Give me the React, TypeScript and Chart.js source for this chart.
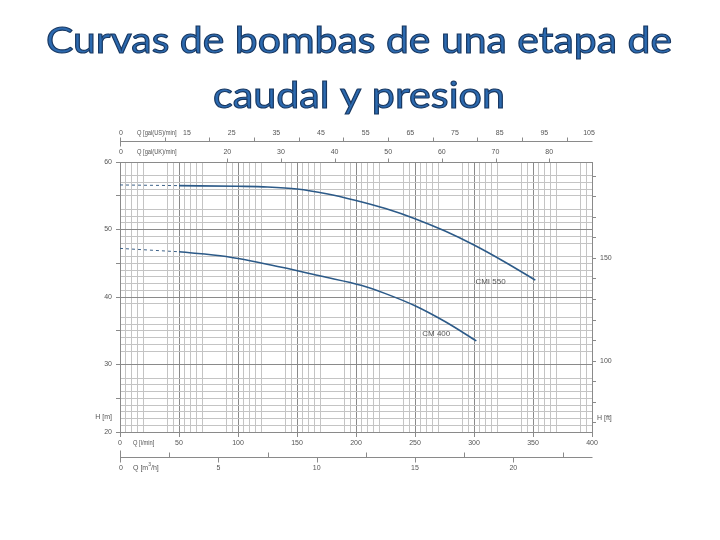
import React, { useEffect, useRef } from "react";
import { Chart, registerables } from "chart.js";

Chart.register(...registerables);

const titleLines = ["Curvas de bombas de una etapa de", "caudal y presion"];
const seriesNames = ["CMI 550", "CM 400"];

// CMI 550 curve (Q in l/min, H in m)
const cm550Q = [50, 100, 125, 150, 175, 200, 225, 250, 275, 300, 325, 352];
const cm550H = [56.5, 56.4, 56.3, 56.0, 55.3, 54.3, 53.1, 51.6, 49.8, 47.7, 45.3, 42.5];
const cm550DashQ = [0, 50];
const cm550DashH = [56.6, 56.5];

// CM 400 curve
const cm400Q = [50, 90, 137, 170, 205, 225, 250, 275, 302];
const cm400H = [46.7, 46.0, 44.4, 43.1, 41.7, 40.5, 38.7, 36.4, 33.5];
const cm400DashQ = [0, 50];
const cm400DashH = [47.2, 46.7];

// tick labels
const lpmLabels = [0, 50, 100, 150, 200, 250, 300, 350, 400];
const meterLabels = [20, 30, 40, 50, 60];
const feetLabels = [100, 150];
const feetTicks = [70, 80, 90, 100, 110, 120, 130, 140, 150, 160, 170, 180, 190];
const galUSLabels = [15, 25, 35, 45, 55, 65, 75, 85, 95, 105];
const galUSTicks = [10, 20, 30, 40, 50, 60, 70, 80, 90, 100];
const galUKLabels = [20, 30, 40, 50, 60, 70, 80];
const m3hLabels = [5, 10, 15, 20];
const m3hMinorTicks = [2.5, 7.5, 12.5, 17.5, 22.5];

const L_PER_GAL_US = 3.78541;
const L_PER_GAL_UK = 4.54609;
const LPM_PER_M3H = 1000 / 60;
const M_PER_FT = 0.3048;

const qOffsets = [0, 5, 10, 15, 20, 40, 45];
const hSkip = [59, 54, 47, 38, 31, 29];

const qGrid: number[] = [];
for (let m = 0; m <= 400; m += 50) {
  for (const o of qOffsets) {
    const v = m + o;
    if (v <= 400) qGrid.push(v);
  }
}
const hGrid: number[] = [];
for (let h = 20; h <= 60; h++) if (!hSkip.includes(h)) hGrid.push(h);

const pts = (xs: number[], ys: number[]) => xs.map((x, i) => ({ x, y: ys[i] }));

const LABEL_FONT = '7px "Liberation Sans", Arial, sans-serif';
const LABEL_COLOR = "#555";
const GRID_MINOR = "#c4c4c4";
const GRID_MAJOR = "#8a8a8a";
const AXIS_COLOR = "#8a8a8a";

const decorPlugin = {
  id: "decor",
  afterDraw(chart: any) {
    const ctx: CanvasRenderingContext2D = chart.ctx;
    const xs = chart.scales.x;
    const ys = chart.scales.y;
    const area = chart.chartArea;
    const px = (lpm: number) => xs.getPixelForValue(lpm);

    ctx.save();
    // Title
    const drawTitle = (text: string, cx: number, base: number, targetW: number) => {
      ctx.font = '37px Lato, "Open Sans", sans-serif';
      const w = ctx.measureText(text).width;
      ctx.save();
      ctx.translate(cx, base);
      ctx.scale(targetW / w, 1);
      ctx.textAlign = "center";
      ctx.textBaseline = "alphabetic";
      ctx.fillStyle = "#2C6AB0";
      ctx.fillText(text, 0, 0);
      ctx.lineWidth = 1.1;
      ctx.strokeStyle = "#183862";
      ctx.strokeText(text, 0, 0);
      ctx.restore();
    };
    drawTitle(titleLines[0], 359, 53, 626);
    drawTitle(titleLines[1], 359, 108, 292);

    ctx.font = LABEL_FONT;
    ctx.fillStyle = LABEL_COLOR;
    ctx.strokeStyle = AXIS_COLOR;
    ctx.lineWidth = 1;
    ctx.textBaseline = "middle";

    const line = (x1: number, y1: number, x2: number, y2: number) => {
      ctx.beginPath();
      ctx.moveTo(Math.round(x1) + 0.5, Math.round(y1) + 0.5);
      ctx.lineTo(Math.round(x2) + 0.5, Math.round(y2) + 0.5);
      ctx.stroke();
    };
    const text = (t: string, x: number, y: number, align: CanvasTextAlign) => {
      ctx.textAlign = align;
      ctx.fillText(t, x, y);
    };
    const narrow = (t: string, x: number, y: number) => {
      ctx.save();
      ctx.translate(x, y);
      ctx.scale(0.82, 1);
      ctx.textAlign = "left";
      ctx.fillText(t, 0, 0);
      ctx.restore();
    };

    // gal(US) axis
    const usY = 141;
    line(area.left, usY, area.right, usY);
    line(area.left, usY - 4, area.left, usY + 5);
    galUSTicks.forEach((g) => line(px(g * L_PER_GAL_US), usY, px(g * L_PER_GAL_US), usY - 4));
    text("0", area.left + 1, 133, "center");
    narrow("Q [gal(US)/min]", 137, 133);
    galUSLabels.forEach((g) => text(String(g), px(g * L_PER_GAL_US), 133, "center"));

    // gal(UK) axis
    const ukY = 152;
    galUKLabels.forEach((g) => line(px(g * L_PER_GAL_UK), area.top, px(g * L_PER_GAL_UK), area.top - 4));
    text("0", area.left + 1, ukY, "center");
    narrow("Q [gal(UK)/min]", 137, ukY);
    galUKLabels.forEach((g) => text(String(g), px(g * L_PER_GAL_UK), ukY, "center"));

    // l/min axis name
    narrow("Q [l/min]", 133, 443);

    // m3/h axis
    const mY = 457;
    line(area.left, mY, area.right, mY);
    line(area.left, mY - 7, area.left, mY + 5);
    m3hMinorTicks.forEach((v) => line(px(v * LPM_PER_M3H), mY, px(v * LPM_PER_M3H), mY - 5));
    m3hLabels.forEach((v) => line(px(v * LPM_PER_M3H), mY, px(v * LPM_PER_M3H), mY + 5));
    text("0", area.left + 1, 468, "center");
    ctx.textAlign = "left";
    ctx.fillText("Q [m", 133, 468);
    const w1 = ctx.measureText("Q [m").width;
    ctx.font = '5px "Liberation Sans", Arial, sans-serif';
    ctx.fillText("3", 133 + w1, 465);
    const w2 = ctx.measureText("3").width;
    ctx.font = LABEL_FONT;
    ctx.fillText("/h]", 133 + w1 + w2, 468);
    m3hLabels.forEach((v) => text(String(v), px(v * LPM_PER_M3H), 468, "center"));

    // axis names
    text("H [m]", 112, 417, "right");
    text("H [ft]", 597, 418, "left");

    // curve labels
    ctx.font = '8px "Liberation Sans", Arial, sans-serif';
    ctx.fillStyle = "#555";
    text(seriesNames[0], xs.getPixelForValue(314), ys.getPixelForValue(42.3), "center");
    text(seriesNames[1], xs.getPixelForValue(268), ys.getPixelForValue(34.6), "center");

    ctx.restore();
  },
};

export default function App() {
  const ref = useRef<HTMLCanvasElement | null>(null);

  useEffect(() => {
    if (!ref.current) return;
    const lineColor = "#2C5A88";
    const chart = new Chart(ref.current, {
      type: "scatter",
      data: {
        datasets: [
          {
            label: seriesNames[0],
            data: pts(cm550Q, cm550H),
            showLine: true,
            borderColor: lineColor,
            borderWidth: 1.6,
            pointRadius: 0,
            cubicInterpolationMode: "monotone",
          },
          {
            label: seriesNames[0] + " (ext)",
            data: pts(cm550DashQ, cm550DashH),
            showLine: true,
            borderColor: "#3d6289",
            borderWidth: 1,
            borderDash: [3, 3],
            pointRadius: 0,
          },
          {
            label: seriesNames[1],
            data: pts(cm400Q, cm400H),
            showLine: true,
            borderColor: lineColor,
            borderWidth: 1.6,
            pointRadius: 0,
            cubicInterpolationMode: "monotone",
          },
          {
            label: seriesNames[1] + " (ext)",
            data: pts(cm400DashQ, cm400DashH),
            showLine: true,
            borderColor: "#3d6289",
            borderWidth: 1,
            borderDash: [3, 3],
            pointRadius: 0,
          },
        ],
      },
      options: {
        animation: false,
        responsive: false,
        maintainAspectRatio: false,
        layout: { padding: { left: 90, right: 98, top: 162, bottom: 88 } },
        plugins: {
          legend: { display: false },
          tooltip: { enabled: false },
          title: { display: false },
        },
        scales: {
          x: {
            type: "linear",
            position: "bottom",
            min: 0,
            max: 400,
            afterBuildTicks: (s: any) => {
              s.ticks = qGrid.map((v) => ({ value: v }));
            },
            afterFit: (s: any) => {
              s.height = 20;
            },
            grid: {
              color: (c: any) => (c.tick && c.tick.value % 50 === 0 ? GRID_MAJOR : GRID_MINOR),
              lineWidth: 1,
              drawTicks: true,
              tickLength: 5,
              tickColor: (c: any) =>
                c.tick && c.tick.value % 50 === 0 ? AXIS_COLOR : "rgba(0,0,0,0)",
            },
            border: { display: true, color: AXIS_COLOR },
            ticks: {
              autoSkip: false,
              maxRotation: 0,
              padding: 2,
              color: LABEL_COLOR,
              font: { family: '"Liberation Sans", Arial, sans-serif', size: 7 },
              callback: (v: any) => (lpmLabels.includes(Number(v)) ? String(v) : ""),
            },
          },
          y: {
            type: "linear",
            position: "left",
            min: 20,
            max: 60,
            afterBuildTicks: (s: any) => {
              s.ticks = hGrid.map((v) => ({ value: v }));
            },
            afterFit: (s: any) => {
              s.width = 30;
            },
            grid: {
              color: (c: any) => (c.tick && c.tick.value % 10 === 0 ? GRID_MAJOR : GRID_MINOR),
              lineWidth: 1,
              drawTicks: true,
              tickLength: 4,
              tickColor: (c: any) =>
                c.tick && c.tick.value % 5 === 0 ? AXIS_COLOR : "rgba(0,0,0,0)",
            },
            border: { display: true, color: AXIS_COLOR },
            ticks: {
              autoSkip: false,
              padding: 4,
              color: LABEL_COLOR,
              font: { family: '"Liberation Sans", Arial, sans-serif', size: 7 },
              callback: (v: any) => (meterLabels.includes(Number(v)) ? String(v) : ""),
            },
          },
          y2: {
            type: "linear",
            position: "right",
            min: 20 / M_PER_FT,
            max: 60 / M_PER_FT,
            afterBuildTicks: (s: any) => {
              s.ticks = feetTicks.map((v) => ({ value: v }));
            },
            afterFit: (s: any) => {
              s.width = 30;
            },
            grid: {
              drawOnChartArea: false,
              drawTicks: true,
              tickLength: 4,
              tickColor: AXIS_COLOR,
            },
            border: { display: true, color: AXIS_COLOR },
            ticks: {
              autoSkip: false,
              padding: 4,
              color: LABEL_COLOR,
              font: { family: '"Liberation Sans", Arial, sans-serif', size: 7 },
              callback: (v: any) => (feetLabels.includes(Number(v)) ? String(v) : ""),
            },
          },
        },
      },
      plugins: [decorPlugin],
    } as any);
    return () => chart.destroy();
  }, []);

  return (
    <div style={{ position: "fixed", left: 0, top: 0, width: 720, height: 540, background: "#fff" }}>
      <canvas ref={ref} width={720} height={540} style={{ width: 720, height: 540, display: "block" }} />
    </div>
  );
}
